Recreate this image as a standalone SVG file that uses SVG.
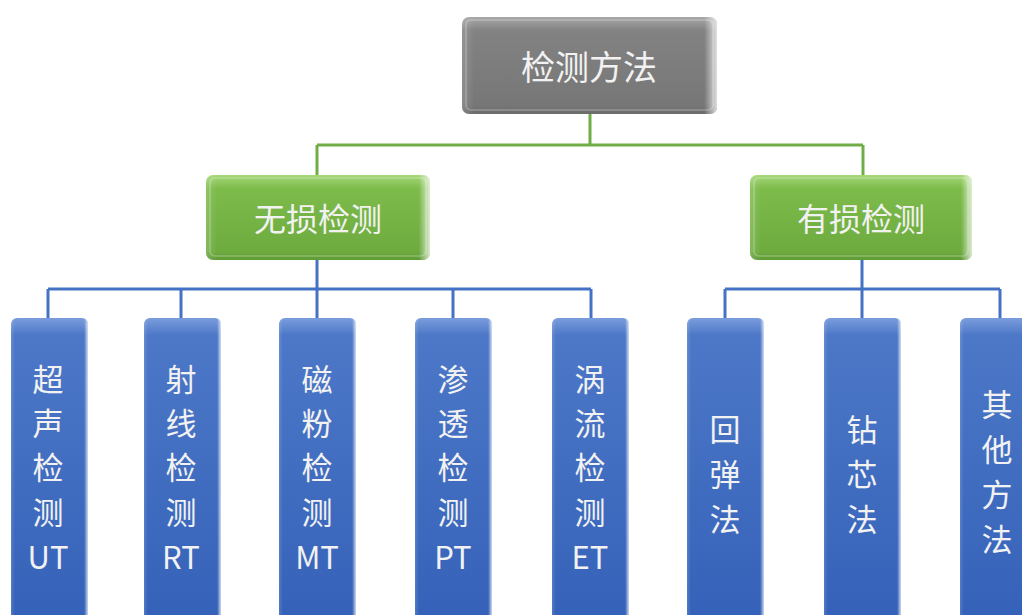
<svg xmlns="http://www.w3.org/2000/svg" width="1022" height="615" viewBox="0 0 1022 615">
<defs>
<linearGradient id="gGray" x1="0" y1="0" x2="0" y2="1">
<stop offset="0" stop-color="#a8a8a8"/><stop offset="0.14" stop-color="#828282"/><stop offset="0.9" stop-color="#777777"/><stop offset="1" stop-color="#6c6c6c"/>
</linearGradient>
<linearGradient id="gGreen" x1="0" y1="0" x2="0" y2="1">
<stop offset="0" stop-color="#a6d878"/><stop offset="0.16" stop-color="#7dbb4b"/><stop offset="0.9" stop-color="#6eab3f"/><stop offset="1" stop-color="#5f9b35"/>
</linearGradient>
<linearGradient id="gBlue" x1="0" y1="0" x2="0" y2="1">
<stop offset="0" stop-color="#7a9ddc"/><stop offset="0.055" stop-color="#4d78c8"/><stop offset="1" stop-color="#3461b8"/>
</linearGradient>
<linearGradient id="gEdge" x1="0" y1="0" x2="1" y2="0">
<stop offset="0" stop-color="#ffffff" stop-opacity="0.15"/><stop offset="0.05" stop-color="#ffffff" stop-opacity="0"/><stop offset="0.95" stop-color="#ffffff" stop-opacity="0"/><stop offset="1" stop-color="#ffffff" stop-opacity="0.75"/>
</linearGradient>
</defs>
<style>
text{font-family:"Noto Sans CJK SC","Noto Sans",sans-serif;fill:#f2f2f2;text-anchor:middle;dominant-baseline:central}
.t1{font-size:34px}
.t2{font-size:32px}
.t3{font-size:31px}
.gl{stroke:#70ad47;stroke-width:3;fill:none}
.bl{stroke:#4472c4;stroke-width:3;fill:none}
.edge{fill:url(#gEdge)}
.hl{fill:none;stroke:#ffffff;stroke-opacity:0.25;stroke-width:1.5}
</style>
<g id="connectors">
<path class="gl" d="M590 114V145M317 145H863M317 145V176M863 145V176"/>
<path class="bl" d="M317 260V289M48 289H591M48 289V319M181 289V319M317 289V319M453 289V319M591 289V319"/>
<path class="bl" d="M862 260V289M725 289H1000M725 289V319M862 289V319M1000 289V319"/>
</g>
<g id="n-root">
<rect x="462" y="17" width="255" height="97" rx="7" fill="url(#gGray)"/>
<rect x="462" y="17" width="255" height="97" rx="7" class="edge"/>
<rect x="466" y="20" width="247" height="90" rx="5" class="hl"/>
<text class="t1" x="589" y="65">检测方法</text>
</g>
<g id="n-ndt">
<rect x="206" y="175" width="224" height="85" rx="7" fill="url(#gGreen)"/>
<rect x="206" y="175" width="224" height="85" rx="7" class="edge"/>
<rect x="210" y="178" width="216" height="78" rx="5" class="hl"/>
<text class="t2" x="318" y="217">无损检测</text>
</g>
<g id="n-dt">
<rect x="750" y="175" width="222" height="85" rx="7" fill="url(#gGreen)"/>
<rect x="750" y="175" width="222" height="85" rx="7" class="edge"/>
<rect x="754" y="178" width="214" height="78" rx="5" class="hl"/>
<text class="t2" x="861" y="217">有损检测</text>
</g>
<g id="n-ut">
<rect x="11" y="318" width="77" height="310" rx="6" fill="url(#gBlue)"/>
<rect x="11" y="318" width="77" height="310" rx="6" class="edge"/>
<text class="t3" x="48"><tspan x="48" y="377">超</tspan><tspan x="48" y="421">声</tspan><tspan x="48" y="465">检</tspan><tspan x="48" y="510">测</tspan><tspan x="48" y="555">UT</tspan></text>
</g>
<g id="n-rt">
<rect x="144" y="318" width="77" height="310" rx="6" fill="url(#gBlue)"/>
<rect x="144" y="318" width="77" height="310" rx="6" class="edge"/>
<text class="t3" x="181"><tspan x="181" y="377">射</tspan><tspan x="181" y="421">线</tspan><tspan x="181" y="465">检</tspan><tspan x="181" y="510">测</tspan><tspan x="181" y="555">RT</tspan></text>
</g>
<g id="n-mt">
<rect x="279" y="318" width="77" height="310" rx="6" fill="url(#gBlue)"/>
<rect x="279" y="318" width="77" height="310" rx="6" class="edge"/>
<text class="t3" x="317"><tspan x="317" y="377">磁</tspan><tspan x="317" y="421">粉</tspan><tspan x="317" y="465">检</tspan><tspan x="317" y="510">测</tspan><tspan x="317" y="555">MT</tspan></text>
</g>
<g id="n-pt">
<rect x="415" y="318" width="77" height="310" rx="6" fill="url(#gBlue)"/>
<rect x="415" y="318" width="77" height="310" rx="6" class="edge"/>
<text class="t3" x="453"><tspan x="453" y="377">渗</tspan><tspan x="453" y="421">透</tspan><tspan x="453" y="465">检</tspan><tspan x="453" y="510">测</tspan><tspan x="453" y="555">PT</tspan></text>
</g>
<g id="n-et">
<rect x="552" y="318" width="77" height="310" rx="6" fill="url(#gBlue)"/>
<rect x="552" y="318" width="77" height="310" rx="6" class="edge"/>
<text class="t3" x="590"><tspan x="590" y="377">涡</tspan><tspan x="590" y="421">流</tspan><tspan x="590" y="465">检</tspan><tspan x="590" y="510">测</tspan><tspan x="590" y="555">ET</tspan></text>
</g>
<g id="n-rebound">
<rect x="687" y="318" width="77" height="310" rx="6" fill="url(#gBlue)"/>
<rect x="687" y="318" width="77" height="310" rx="6" class="edge"/>
<text class="t3" x="725"><tspan x="725" y="427">回</tspan><tspan x="725" y="472">弹</tspan><tspan x="725" y="517">法</tspan></text>
</g>
<g id="n-core">
<rect x="824" y="318" width="77" height="310" rx="6" fill="url(#gBlue)"/>
<rect x="824" y="318" width="77" height="310" rx="6" class="edge"/>
<text class="t3" x="862"><tspan x="862" y="427">钻</tspan><tspan x="862" y="472">芯</tspan><tspan x="862" y="517">法</tspan></text>
</g>
<g id="n-other">
<rect x="960" y="318" width="77" height="310" rx="6" fill="url(#gBlue)"/>
<rect x="960" y="318" width="77" height="310" rx="6" class="edge"/>
<text class="t3" x="997"><tspan x="997" y="402">其</tspan><tspan x="997" y="447">他</tspan><tspan x="997" y="492">方</tspan><tspan x="997" y="537">法</tspan></text>
</g>
</svg>
